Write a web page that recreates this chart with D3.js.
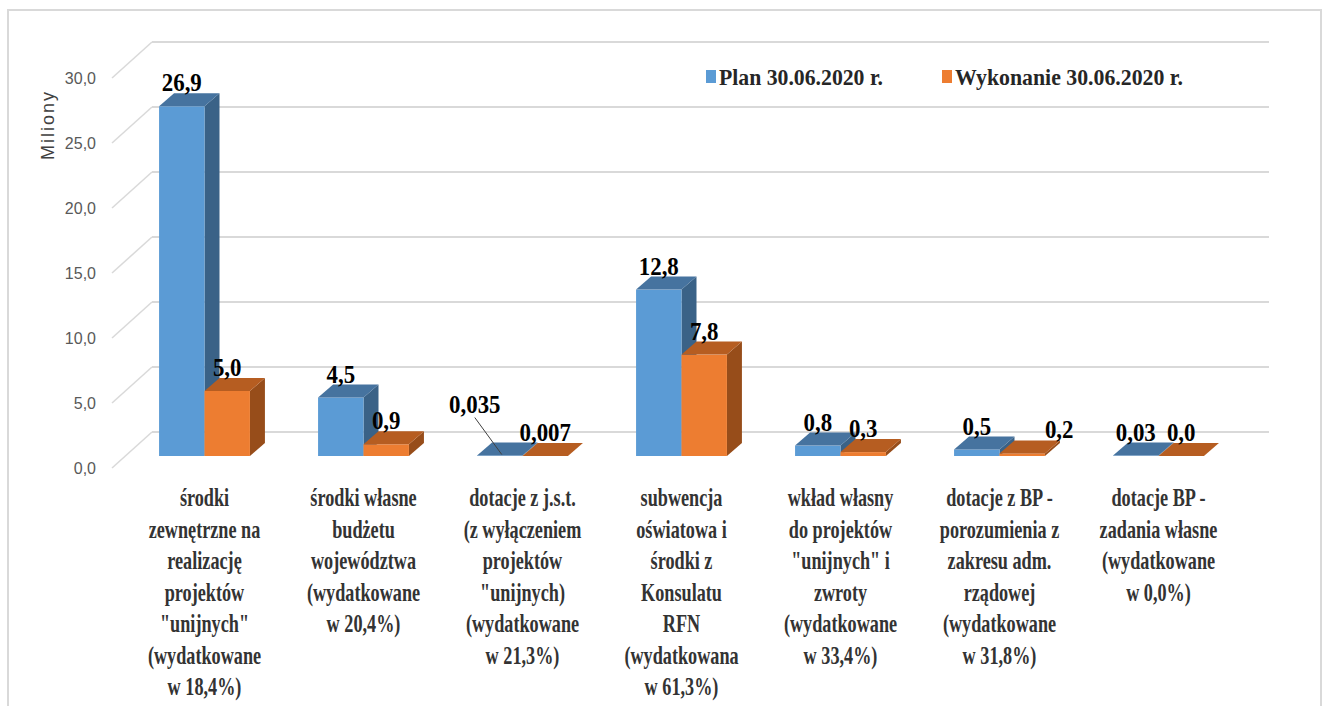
<!DOCTYPE html>
<html>
<head>
<meta charset="utf-8">
<script src="https://cdn.jsdelivr.net/npm/d3@7"></script>
<style>
  body { margin: 0; background: #fff; }
</style>
</head>
<body>
<div id="chart"></div>
<script>
// ---- data ----
const categories = [
  "środki\nzewnętrzne na\nrealizację\nprojektów\n\"unijnych\"\n(wydatkowane\nw 18,4%)",
  "środki własne\nbudżetu\nwojewództwa\n(wydatkowane\nw 20,4%)",
  "dotacje z j.s.t.\n(z wyłączeniem\nprojektów\n\"unijnych)\n(wydatkowane\nw 21,3%)",
  "subwencja\noświatowa i\nśrodki z\nKonsulatu\nRFN\n(wydatkowana\nw 61,3%)",
  "wkład własny\ndo projektów\n\"unijnych\" i\nzwroty\n(wydatkowane\nw 33,4%)",
  "dotacje z BP -\nporozumienia z\nzakresu adm.\nrządowej\n(wydatkowane\nw 31,8%)",
  "dotacje BP -\nzadania własne\n(wydatkowane\nw 0,0%)"
];
const seriesNames = ["Plan 30.06.2020 r.", "Wykonanie 30.06.2020 r."];
const planValues = [26.9, 4.5, 0.035, 12.8, 0.8, 0.5, 0.03];
const wykonanieValues = [5.0, 0.9, 0.007, 7.8, 0.3, 0.2, 0.0];
const planLabels = ["26,9", "4,5", "0,035", "12,8", "0,8", "0,5", "0,03"];
const wykonanieLabels = ["5,0", "0,9", "0,007", "7,8", "0,3", "0,2", "0,0"];
const yTicks = [0, 5, 10, 15, 20, 25, 30];
const yTickLabels = ["0,0", "5,0", "10,0", "15,0", "20,0", "25,0", "30,0"];
const yTitle = "Miliony";

// ---- setup ----
const width = 1323, height = 706;
const svg = d3.select("#chart").append("svg")
  .attr("width", width)
  .attr("height", height);

const colors = [
  {front: "#5B9BD5", top: "#46739F", side: "#3A6287"},
  {front: "#ED7D31", top: "#B65D21", side: "#974D1A"}
];
const serif = "Liberation Serif, Times New Roman, serif";

// outer frame
svg.append("rect")
  .attr("x", 8).attr("y", 10)
  .attr("width", 1313).attr("height", 720)
  .attr("fill", "none")
  .attr("stroke", "#d9d9d9")
  .attr("stroke-width", 2);

// bar plane scales
let y = d3.scaleLinear().domain([0, 30]).range([456, 66]);
let x = d3.scaleBand().domain(d3.range(categories.length)).range([125, 1238]);
let xs = d3.scaleBand().domain([0, 1]).range([0, x.bandwidth()]).paddingOuter(0.75);

const DX = 15, DY = 13;          // bar depth
const wallBack = {dx: 27, dy: -24};
const wallFront = {dx: -13, dy: 12};

// gridlines (back wall + side wall)
const grid = svg.append("g");
yTicks.forEach((t, i) => {
  let yy = y(t);
  grid.append("line")
    .attr("x1", 125 + wallBack.dx).attr("x2", 1238 + 31)
    .attr("y1", yy + wallBack.dy).attr("y2", yy + wallBack.dy)
    .attr("stroke", "#d9d9d9").attr("stroke-width", 2);
  grid.append("line")
    .attr("x1", 125 + wallFront.dx).attr("y1", yy + wallFront.dy)
    .attr("x2", 125 + wallBack.dx).attr("y2", yy + wallBack.dy)
    .attr("stroke", "#d9d9d9").attr("stroke-width", 1.5);
  svg.append("text")
    .attr("x", 96).attr("y", yy + wallFront.dy + 6)
    .attr("text-anchor", "end")
    .attr("font-family", "Liberation Sans, Arial, sans-serif")
    .attr("font-size", 16)
    .attr("fill", "#595959")
    .text(yTickLabels[i]);
});

// y title
svg.append("text")
  .attr("transform", "translate(54,125) rotate(-90)")
  .attr("text-anchor", "middle")
  .attr("font-family", "Liberation Sans, Arial, sans-serif")
  .attr("font-size", 18)
  .attr("letter-spacing", 2)
  .attr("fill", "#404040")
  .text(yTitle);

// bars
function drawBar(g, x0, w, v, c) {
  let yt = y(v), yb = y(0);
  g.append("path")
    .attr("d", `M${x0 + w},${yt}L${x0 + w + DX},${yt - DY}L${x0 + w + DX},${yb - DY}L${x0 + w},${yb}Z`)
    .attr("fill", c.side);
  g.append("rect")
    .attr("x", x0).attr("y", yt)
    .attr("width", w).attr("height", yb - yt)
    .attr("fill", c.front);
  g.append("path")
    .attr("d", `M${x0},${yt}L${x0 + DX},${yt - DY}L${x0 + w + DX},${yt - DY}L${x0 + w},${yt}Z`)
    .attr("fill", c.top);
}

const series = [planValues, wykonanieValues];
const seriesLabels = [planLabels, wykonanieLabels];
// manual nudges for a few data labels (like in the original)
const nudge = {"0-2": {dx: -25, dy: -28, leader: true}, "1-5": {dx: 37, dy: 0}};

const bars = svg.append("g");
const labels = svg.append("g");
categories.forEach((cat, i) => {
  series.forEach((vals, s) => {
    let x0 = x(i) + xs(s), w = xs.bandwidth();
    drawBar(bars, x0, w, vals[i], colors[s]);
    let n = nudge[s + "-" + i] || {dx: 0, dy: 0};
    let cx = x0 + w / 2 + n.dx;
    let by = y(vals[i]) - DY - 2 + n.dy;
    if (n.leader) {
      labels.append("line")
        .attr("x1", cx).attr("y1", by + 5)
        .attr("x2", x0 + w / 2 + 2).attr("y2", y(vals[i]) - 1)
        .attr("stroke", "#404040").attr("stroke-width", 1);
    }
    labels.append("text")
      .attr("transform", `translate(${cx},${by}) scale(0.88,1)`)
      .attr("text-anchor", "middle")
      .attr("font-family", serif)
      .attr("font-weight", "bold")
      .attr("font-size", 26)
      .attr("fill", "#000")
      .text(seriesLabels[s][i]);
  });

  // category label
  let lines = cat.split("\n");
  let cg = svg.append("g");
  lines.forEach((ln, k) => {
    cg.append("text")
      .attr("transform", `translate(${x(i) + x.bandwidth() / 2},${506 + k * 31.5}) scale(0.7,1)`)
      .attr("text-anchor", "middle")
      .attr("font-family", serif)
      .attr("font-weight", "bold")
      .attr("font-size", 26)
      .attr("fill", "#333")
      .text(ln);
  });
});

// legend
const legendX = [706, 942];
const legendW = [164, 228];
seriesNames.forEach((name, s) => {
  svg.append("rect")
    .attr("x", legendX[s]).attr("y", 70)
    .attr("width", 10).attr("height", 13)
    .attr("fill", colors[s].front);
  svg.append("text")
    .attr("x", legendX[s] + 13).attr("y", 85)
    .attr("font-family", serif)
    .attr("font-weight", "bold")
    .attr("font-size", 24)
    .attr("fill", "#262626")
    .attr("textLength", legendW[s])
    .attr("lengthAdjust", "spacingAndGlyphs")
    .text(name);
});
</script>
</body>
</html>
